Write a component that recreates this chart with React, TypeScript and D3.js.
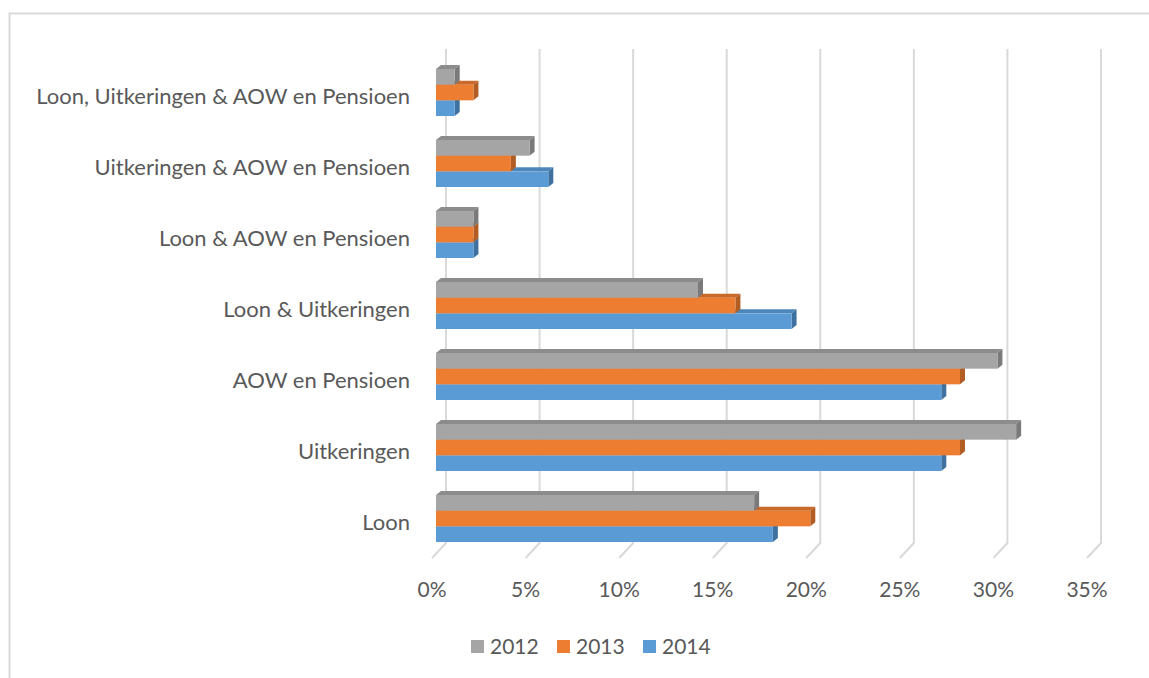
import React from "react";
import * as d3 from "d3";

const categories = [
  "Loon",
  "Uitkeringen",
  "AOW en Pensioen",
  "Loon & Uitkeringen",
  "Loon & AOW en Pensioen",
  "Uitkeringen & AOW en Pensioen",
  "Loon, Uitkeringen & AOW en Pensioen",
];
const years = ["2012", "2013", "2014"];
const values2012 = [0.17, 0.31, 0.30, 0.14, 0.02, 0.05, 0.01];
const values2013 = [0.20, 0.28, 0.28, 0.16, 0.02, 0.04, 0.02];
const values2014 = [0.18, 0.27, 0.27, 0.19, 0.02, 0.06, 0.01];
const ticks = [0, 0.05, 0.1, 0.15, 0.2, 0.25, 0.3, 0.35];

const series = [values2012, values2013, values2014];
const front = ["#A5A5A5", "#ED7D31", "#5B9BD5"];
const side = ["#7A7A7A", "#B15D23", "#3F71A0"];
const top = ["#8C8C8C", "#C9692A", "#4D86BA"];

const W = 1149, H = 678;
const FONT = "Lato, 'Open Sans', sans-serif";
const TXT = "#595959";

const App = () => {
  const x = d3.scaleLinear().domain([0, 0.35]).range([436, 1091]);
  // top category first
  const y = d3.scaleBand<string>()
    .domain([...categories].reverse())
    .range([57, 554])
    .paddingInner(0.338)
    .paddingOuter(0.169);
  const ySub = d3.scaleBand<string>().domain(years).range([0, y.bandwidth()]);
  const dx = 5, dy = -4; // bar depth
  const backDx = 10, floorBottom = 543, floorDx = -14, floorDy = 15, gridTop = 49;

  const grid = ticks.map(t => {
    const xb = x(t) + backDx;
    return (
      <g key={t}>
        <path d={`M${xb},${gridTop}V${floorBottom}L${xb + floorDx},${floorBottom + floorDy}`}
          fill="none" stroke="#D9D9D9" strokeWidth={2} />
        <text x={xb + floorDx} y={597} textAnchor="middle" fontFamily={FONT} fontSize={21} fill={TXT}>
          {`${Math.round(t * 100)}%`}
        </text>
      </g>
    );
  });

  const bars = categories.map((c, ci) => {
    const gy = y(c) as number;
    // draw bottom bar first so upper bars cover the hidden top faces
    const order = [2, 1, 0];
    return (
      <g key={c}>
        {order.map(si => {
          const v = series[si][ci];
          const x0 = x(0), x1 = x(v);
          const y0 = gy + (ySub(years[si]) as number);
          const h = ySub.bandwidth();
          return (
            <g key={si}>
              <path d={`M${x0},${y0}L${x0 + dx},${y0 + dy}L${x1 + dx},${y0 + dy}L${x1},${y0}Z`} fill={top[si]} />
              <path d={`M${x1},${y0}L${x1 + dx},${y0 + dy}L${x1 + dx},${y0 + h + dy}L${x1},${y0 + h}Z`} fill={side[si]} />
              <rect x={x0} y={y0} width={x1 - x0} height={h} fill={front[si]} />
            </g>
          );
        })}
        <text x={410} y={gy + y.bandwidth() / 2 + 4} dy="0.35em" textAnchor="end"
          fontFamily={FONT} fontSize={22} fill={TXT}>{c}</text>
      </g>
    );
  });

  const legendX = [471, 557, 643];
  const legend = years.map((yr, i) => (
    <g key={yr}>
      <rect x={legendX[i]} y={640} width={13} height={13} fill={front[i]} />
      <text x={legendX[i] + 19} y={646.5} dy="0.35em" fontFamily={FONT} fontSize={21} fill={TXT}>{yr}</text>
    </g>
  ));

  return (
    <svg width={W} height={H} style={{ position: "absolute", left: 0, top: 0 }}>
      <rect x={0} y={0} width={W} height={H} fill="#fff" />
      <rect x={9.5} y={13.5} width={W + 20} height={H + 20} fill="none" stroke="#D9D9D9" strokeWidth={2} />
      {grid}
      {bars}
      {legend}
    </svg>
  );
};

export default App;
